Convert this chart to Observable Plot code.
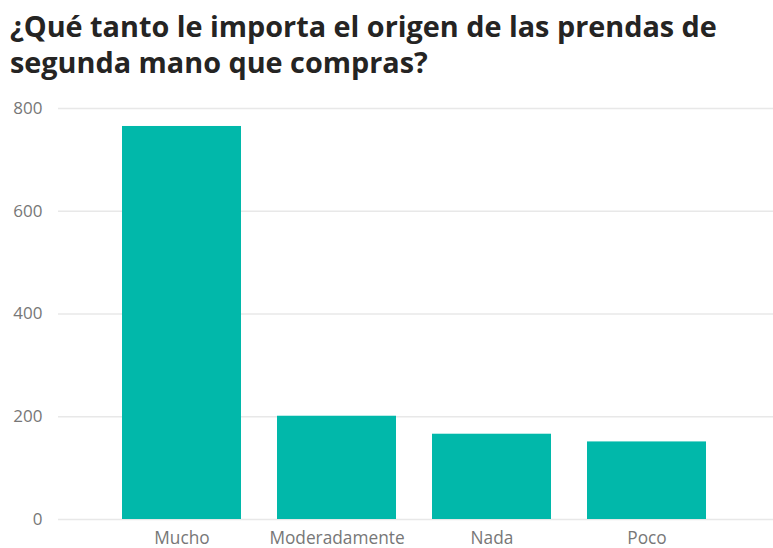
<!DOCTYPE html>
<html>
<head>
<meta charset="utf-8">
<script src="https://cdn.jsdelivr.net/npm/d3@7"></script>
<script src="https://cdn.jsdelivr.net/npm/@observablehq/plot@0.6"></script>
<style>
  html, body { margin: 0; padding: 0; background: #fff; }
  #title {
    font-family: "Open Sans", "Noto Sans", sans-serif;
    font-weight: 700;
    font-size: 28.8px;
    line-height: 36px;
    color: #252423;
    padding: 8px 0 0 10px;
    height: 82px;
    box-sizing: content-box;
    white-space: nowrap;
  }
  #chart svg { display: block; }
</style>
</head>
<body>
<div id="title">¿Qué tanto le importa el origen de las prendas de<br>segunda mano que compras?</div>
<div id="chart"></div>
<script>
const categories = ["Mucho", "Moderadamente", "Nada", "Poco"];
const values = [765, 201, 166, 151];
const yTicks = [0, 200, 400, 600, 800];

const data = categories.map((c, i) => ({category: c, value: values[i]}));

const chart = Plot.plot({
  width: 773,
  height: 458,
  marginTop: 18,
  marginBottom: 29,
  marginLeft: 58,
  marginRight: 0,
  style: {fontFamily: "'Open Sans', 'Noto Sans', sans-serif", background: "#fff"},
  x: {domain: categories, paddingInner: 0.235, paddingOuter: 0.4165, align: 0.486, label: null},
  y: {domain: [0, 800], label: null},
  marks: [
    Plot.ruleY(yTicks, {stroke: "#e8e8e8", strokeWidth: 1.5}),
    Plot.barY(data, {x: "category", y: "value", fill: "#01B8AA"}),
    Plot.axisX({tickSize: 0, tickPadding: 12, fontSize: 17.3, fill: "#777", label: null}),
    Plot.axisY({ticks: yTicks, tickSize: 0, tickPadding: 16, fontSize: 17, fill: "#777", label: null})
  ]
});
document.getElementById("chart").appendChild(chart);
</script>
</body>
</html>
